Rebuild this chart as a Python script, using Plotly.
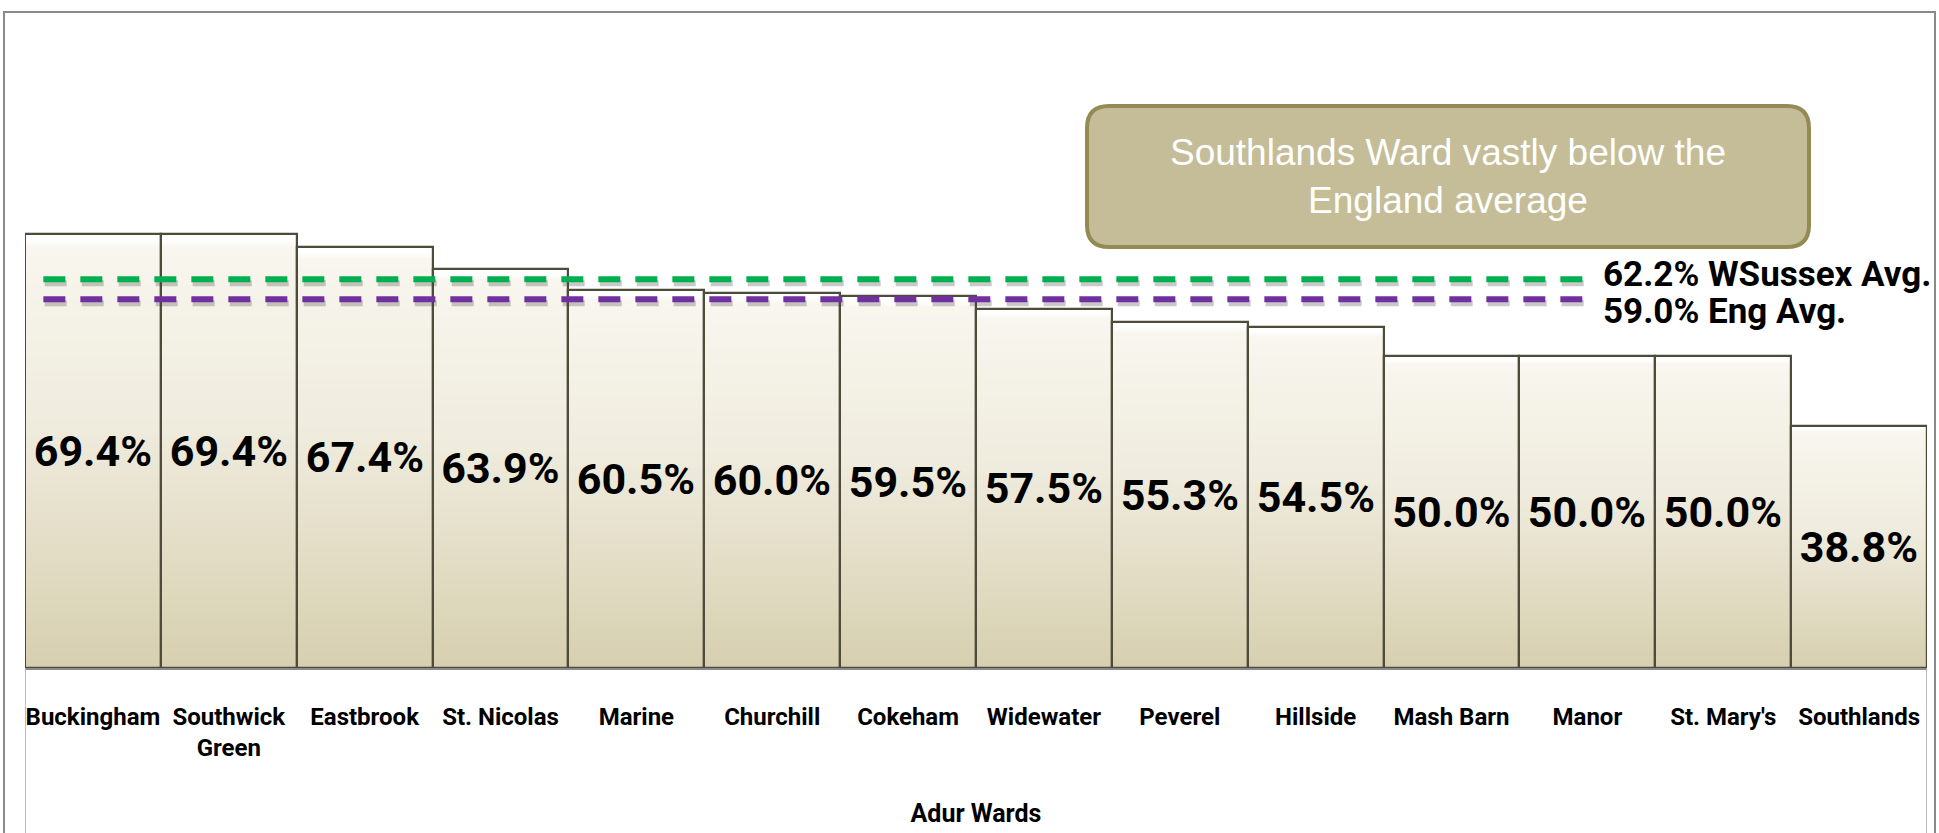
import numpy as np
import plotly.graph_objects as go

# Adur ward values (%)
wards = ["Buckingham", "Southwick Green", "Eastbrook", "St. Nicolas", "Marine",
         "Churchill", "Cokeham", "Widewater", "Peverel", "Hillside", "Mash Barn",
         "Manor", "St. Mary's", "Southlands"]
tick_labels = ["Buckingham", "Southwick<br>Green", "Eastbrook", "St. Nicolas", "Marine",
               "Churchill", "Cokeham", "Widewater", "Peverel", "Hillside", "Mash Barn",
               "Manor", "St. Mary's", "Southlands"]
values = [69.4, 69.4, 67.4, 63.9, 60.5, 60.0, 59.5, 57.5, 55.3, 54.5, 50.0, 50.0, 50.0, 38.8]

wsussex_avg = 62.2
england_avg = 59.0
callout_text = "Southlands Ward vastly below the<br>England average"

# ---- page geometry (pixels) ----
W, H = 1939, 833
PL, PR, PT, PB = 25, 12, 43, 165           # plot area margins
plot_w = W - PL - PR
plot_h = H - PT - PB
Y_MAX = 100


def px_x(px):
    return (px - PL) / plot_w


def px_y(py):
    return (H - PB - py) / plot_h


BOLD = "Roboto, Liberation Sans, Arial, sans-serif"
REGULAR = "Liberation Sans, Arial, sans-serif"

# ---- per-bar vertical gradient, drawn as a heatmap under the bar outlines ----
step = 0.1
y_grid = np.arange(step / 2, max(values), step)
z = np.full((len(y_grid), len(wards)), np.nan)
for j, v in enumerate(values):
    inside = y_grid < v
    z[inside, j] = (v - y_grid[inside]) / v   # 0 at bar top, 1 at baseline

gradient = go.Heatmap(
    x=wards, y=y_grid, z=z, zmin=0, zmax=1,
    colorscale=[[0.0, "#FFFFFF"], [0.012, "#FFFFFF"], [0.03, "#F8F6EE"],
                [0.45, "#EFEBDD"], [1.0, "#D6CFAF"]],
    showscale=False, hoverinfo="skip", xgap=0, ygap=0,
)

bars = go.Bar(
    x=wards, y=values,
    text=[f"{v:.1f}%" for v in values],
    textposition="inside", insidetextanchor="middle", textangle=0,
    textfont=dict(family=BOLD, size=43, color="#000000", weight="bold"),
    marker=dict(color="rgba(0,0,0,0)", line=dict(color="#4E4B3B", width=2.2)),
    cliponaxis=False, hoverinfo="x+y",
)

fig = go.Figure([gradient, bars])

shapes = []

# average reference lines (with a soft drop shadow)
line_x0, line_x1 = -0.365, 11.0
shadow_dy = 4 / plot_h * Y_MAX
for val, col in [(wsussex_avg, "#00B050"), (england_avg, "#7030A0")]:
    shapes.append(dict(type="line", xref="x", yref="y", x0=line_x0 + 0.01, x1=line_x1 + 0.01,
                       y0=val - shadow_dy, y1=val - shadow_dy,
                       line=dict(color="rgba(60,60,60,0.28)", width=6, dash="22px,15px")))
    shapes.append(dict(type="line", xref="x", yref="y", x0=line_x0, x1=line_x1,
                       y0=val, y1=val, line=dict(color=col, width=6, dash="22px,15px")))

# rounded call-out box
bx0, bx1, by0, by1, r = px_x(1087), px_x(1809), px_y(106), px_y(247), 22
rx, ry = r / plot_w, r / plot_h
path = (f"M {bx0 + rx},{by0} L {bx1 - rx},{by0} Q {bx1},{by0} {bx1},{by0 - ry} "
        f"L {bx1},{by1 + ry} Q {bx1},{by1} {bx1 - rx},{by1} "
        f"L {bx0 + rx},{by1} Q {bx0},{by1} {bx0},{by1 + ry} "
        f"L {bx0},{by0 - ry} Q {bx0},{by0} {bx0 + rx},{by0} Z")
shapes.append(dict(type="path", xref="paper", yref="paper", path=path,
                   fillcolor="#C4BD97", line=dict(color="#948A54", width=4)))

# outer chart frame
shapes.append(dict(type="rect", xref="paper", yref="paper",
                   x0=px_x(4), x1=px_x(1935), y0=px_y(12), y1=px_y(H + 10),
                   line=dict(color="#8A8A8A", width=2), fillcolor="rgba(0,0,0,0)", layer="below"))
# category-area side rules
for xe in (-0.5, len(wards) - 0.5):
    shapes.append(dict(type="line", xref="x", yref="paper", x0=xe, x1=xe,
                       y0=0, y1=px_y(H + 10), line=dict(color="#A6A6A6", width=1.5)))

annotations = [
    dict(x=line_x1, y=wsussex_avg, xref="x", yref="y", xanchor="left", yanchor="middle",
         xshift=14, yshift=5, showarrow=False, text=f"{wsussex_avg:.1f}% WSussex Avg.",
         font=dict(family=BOLD, size=35, color="#000000", weight="bold")),
    dict(x=line_x1, y=england_avg, xref="x", yref="y", xanchor="left", yanchor="middle",
         xshift=14, yshift=-12, showarrow=False, text=f"{england_avg:.1f}% Eng Avg.",
         font=dict(family=BOLD, size=35, color="#000000", weight="bold")),
    dict(x=(bx0 + bx1) / 2, y=(by0 + by1) / 2, xref="paper", yref="paper",
         xanchor="center", yanchor="middle", showarrow=False, text=callout_text,
         font=dict(family=REGULAR, size=37, color="#FFFFFF")),
]

fig.update_layout(
    width=W, height=H,
    margin=dict(l=PL, r=PR, t=PT, b=PB, autoexpand=False),
    paper_bgcolor="#FFFFFF", plot_bgcolor="rgba(0,0,0,0)",
    bargap=0, showlegend=False,
    shapes=shapes, annotations=annotations,
    xaxis=dict(
        type="category", tickmode="array", tickvals=wards, ticktext=tick_labels,
        range=[-0.5, len(wards) - 0.5], showgrid=False, zeroline=False,
        showline=True, linecolor="#8A8A8A", linewidth=1.5, ticks="",
        tickangle=0, ticklabelstandoff=26,
        tickfont=dict(family=BOLD, size=24, color="#000000", weight="bold"),
        title=dict(text="Adur Wards", standoff=44,
                   font=dict(family=BOLD, size=25, color="#000000", weight="bold")),
    ),
    yaxis=dict(range=[0, Y_MAX], visible=False, showgrid=False, zeroline=False),
)

fig.write_html("out.html")
